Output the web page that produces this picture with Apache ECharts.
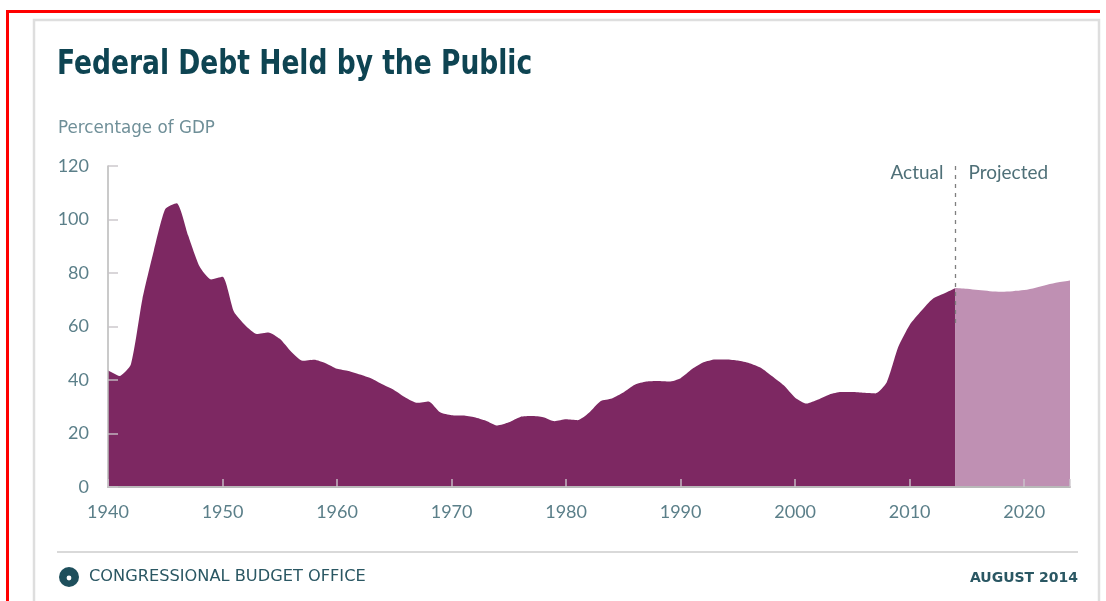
<!DOCTYPE html>
<html>
<head>
<meta charset="utf-8">
<script src="https://cdn.jsdelivr.net/npm/echarts@6/dist/echarts.min.js"></script>
<style>
  html, body { margin: 0; padding: 0; background: #ffffff; }
  #chart { width: 1106px; height: 601px; }
</style>
</head>
<body>
<div id="chart"></div>
<script>
// ---- data ----
const actualYears = [1940,1941,1942,1943,1944,1945,1946,1947,1948,1949,
  1950,1951,1952,1953,1954,1955,1956,1957,1958,1959,
  1960,1961,1962,1963,1964,1965,1966,1967,1968,1969,
  1970,1971,1972,1973,1974,1975,1976,1977,1978,1979,
  1980,1981,1982,1983,1984,1985,1986,1987,1988,1989,
  1990,1991,1992,1993,1994,1995,1996,1997,1998,1999,
  2000,2001,2002,2003,2004,2005,2006,2007,2008,2009,
  2010,2011,2012,2013,2014];
const actualValues = [43.6,41.5,45.9,70.2,88.3,103.9,106.1,94.0,82.4,77.6,
  78.6,65.5,60.4,57.2,57.8,55.4,50.6,47.2,47.6,46.3,
  44.2,43.4,42.1,40.6,38.3,36.2,33.4,31.5,32.0,27.9,
  26.8,26.7,26.1,24.8,23.0,24.2,26.2,26.5,26.1,24.6,
  25.3,25.0,27.8,32.1,33.1,35.3,38.2,39.4,39.6,39.4,
  40.7,44.1,46.6,47.7,47.7,47.3,46.3,44.6,41.4,38.0,
  33.4,31.2,32.7,34.6,35.5,35.5,35.2,35.0,39.2,52.3,
  60.6,65.8,70.3,72.3,74.4];
const projectedYears = [2014,2015,2016,2017,2018,2019,2020,2021,2022,2023,2024];
const projectedValues = [74.4,74.1,73.6,73.2,73.0,73.2,73.6,74.5,75.6,76.5,77.2];
const xTicks = [1940,1950,1960,1970,1980,1990,2000,2010,2020];
const yTicks = [0,20,40,60,80,100,120];
const divideYear = 2014;

const titleText = 'Federal Debt Held by the Public';
const unitText = 'Percentage of GDP';
const sourceText = 'CONGRESSIONAL BUDGET OFFICE';
const dateText = 'AUGUST 2014';

// ---- chart ----
const chart = echarts.init(document.getElementById('chart'), null, { renderer: 'canvas' });
const actualData = actualYears.map((y, i) => [y, actualValues[i]]);
const projectedData = projectedYears.map((y, i) => [y, projectedValues[i]]);

const labelColor = '#5b7f89';
const axisGray = '#b9b9b9';

const option = {
  backgroundColor: '#ffffff',
  animation: false,
  grid: { left: 108, right: 36, top: 166, bottom: 114, containLabel: false },
  xAxis: {
    type: 'value', min: 1940, max: 2024, interval: 10, z: 10,
    axisLine: { show: true, lineStyle: { color: axisGray, width: 2 } },
    axisTick: { show: true, inside: true, length: 8, lineStyle: { color: 'rgba(205,200,205,0.9)', width: 1.5 } },
    splitLine: { show: false },
    axisLabel: { color: labelColor, fontFamily: 'Lato, sans-serif', fontSize: 18, margin: 16,
      formatter: v => (xTicks.indexOf(v) >= 0 ? String(v) : '') }
  },
  yAxis: {
    type: 'value', min: 0, max: 120, interval: 20, z: 10,
    axisLine: { show: true, lineStyle: { color: axisGray, width: 1.5 } },
    axisTick: { show: true, inside: true, length: 10, lineStyle: { color: 'rgba(200,195,200,0.9)', width: 1.5 } },
    splitLine: { show: false },
    axisLabel: { color: labelColor, fontFamily: 'Lato, sans-serif', fontSize: 18, margin: 19,
      formatter: v => (yTicks.indexOf(v) >= 0 ? String(v) : '') }
  },
  series: [
    {
      name: 'divider', type: 'line', data: [], z: 1, silent: true,
      markLine: {
        silent: true, symbol: ['none', 'none'], animation: false,
        lineStyle: { type: [4, 5], color: '#7f7f7f', width: 1.3 },
        label: { show: false },
        data: [[{ coord: [divideYear, 120] }, { coord: [divideYear, 60] }]]
      },
      markPoint: {
        silent: true, symbol: 'circle', symbolSize: 0,
        label: { show: true, color: '#4f7078', fontFamily: 'Lato, sans-serif', fontSize: 19,
          formatter: p => p.name },
        data: [
          { name: 'Actual', coord: [divideYear, 117.3], label: { position: 'left', distance: 12 } },
          { name: 'Projected', coord: [divideYear, 117.3], label: { position: 'right', distance: 13 } }
        ]
      }
    },
    {
      name: 'Actual', type: 'line', data: actualData, showSymbol: false, smooth: 0.2, z: 3,
      lineStyle: { width: 0 }, areaStyle: { color: '#7d2862', opacity: 1 }
    },
    {
      name: 'Projected', type: 'line', data: projectedData, showSymbol: false, smooth: 0.3, z: 3,
      lineStyle: { width: 0 }, areaStyle: { color: '#bf90b3', opacity: 1 }
    }
  ],
  graphic: [
    { type: 'polyline', z: 100, silent: true,
      shape: { points: [[7.5, 601], [7.5, 11.5], [1100, 11.5]] },
      style: { stroke: '#ff0000', lineWidth: 3, fill: null } },
    { type: 'rect', z: -10, silent: true,
      shape: { x: 34, y: 20, width: 1065, height: 640 },
      style: { stroke: '#dedede', lineWidth: 2.5, fill: '#ffffff' } },
    { type: 'text', silent: true, x: 57, y: 65, scaleX: 0.78,
      style: { text: titleText, fill: '#0e4452', font: 'bold 34px "DejaVu Sans", sans-serif', verticalAlign: 'middle', align: 'left' } },
    { type: 'text', silent: true, x: 58, y: 128, scaleX: 0.93,
      style: { text: unitText, fill: '#6f8f98', font: '18px "DejaVu Sans", sans-serif', verticalAlign: 'middle', align: 'left' } },
    { type: 'line', silent: true,
      shape: { x1: 57, y1: 552, x2: 1078, y2: 552 },
      style: { stroke: '#d9d9d9', lineWidth: 2 } },
    { type: 'circle', silent: true,
      shape: { cx: 69, cy: 577, r: 10 },
      style: { fill: '#1e4f5c' } },
    { type: 'circle', silent: true,
      shape: { cx: 69, cy: 578, r: 2.4 },
      style: { fill: '#ffffff' } },
    { type: 'text', silent: true, x: 89, y: 577, scaleX: 1.08,
      style: { text: sourceText, fill: '#2a5763', font: '15px "DejaVu Sans", sans-serif', verticalAlign: 'middle', align: 'left' } },
    { type: 'text', silent: true, x: 1078, y: 578,
      style: { text: dateText, fill: '#2a5763', font: 'bold 14px "DejaVu Sans", sans-serif', verticalAlign: 'middle', align: 'right' } }
  ]
};
chart.setOption(option);
</script>
</body>
</html>
